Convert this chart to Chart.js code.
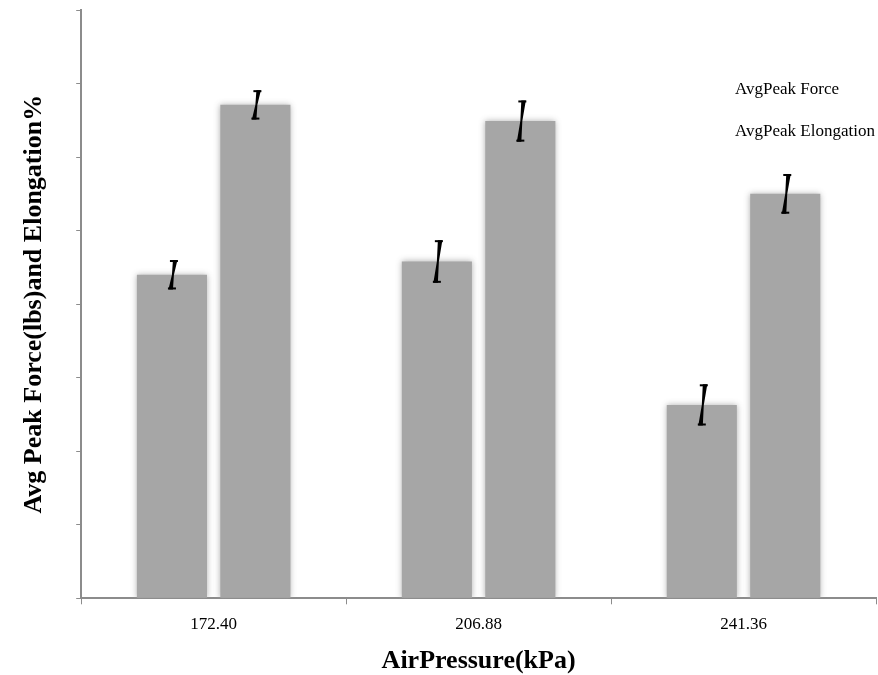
<!DOCTYPE html>
<html>
<head>
<meta charset="utf-8">
<script src="https://cdn.jsdelivr.net/npm/chart.js@4/dist/chart.umd.min.js"></script>
<style>
  html, body { margin: 0; padding: 0; background: #fff; }
  #wrap { width: 878px; height: 675px; }
</style>
</head>
<body>
<div id="wrap"><canvas id="peakChart" width="878" height="675"></canvas></div>
<script>
const pressures = ['172.40', '206.88', '241.36'];
const avgForce = [4.40, 4.58, 2.63];
const avgElongation = [6.71, 6.49, 5.50];
const forceErr = [0.20, 0.29, 0.28];
const elongationErr = [0.20, 0.28, 0.27];
const yTicks = [0, 1, 2, 3, 4, 5, 6, 7, 8];

const SERIF = '"Liberation Serif", "Times New Roman", serif';
const AXIS_GREY = '#8c8c8c';
const BAR_GREY = '#a6a6a6';

// soft edges on the bars
const barBlur = {
  id: 'barBlur',
  beforeDatasetsDraw(chart) {
    const c = chart.ctx;
    c.save();
    c.shadowColor = 'rgba(166,166,166,0.9)';
    c.shadowBlur = 6;
  },
  afterDatasetsDraw(chart) {
    chart.ctx.restore();
  }
};

// slanted "I" error marks
const errorMarks = {
  id: 'errorMarks',
  afterDatasetsDraw(chart) {
    const c = chart.ctx;
    const y = chart.scales.y;
    chart.data.datasets.forEach((ds, i) => {
      const meta = chart.getDatasetMeta(i);
      meta.data.forEach((bar, j) => {
        const v = ds.data[j];
        const e = ds.errors[j];
        const top = y.getPixelForValue(v + e);
        const bot = y.getPixelForValue(v - e);
        const x = bar.x + 1;
        c.save();
        c.fillStyle = '#000';
        // tapered stem, thick at both ends
        c.beginPath();
        c.moveTo(x, top);
        c.lineTo(x + 4.5, top);
        c.lineTo(x + 1, (top + bot) / 2);
        c.lineTo(x, bot);
        c.lineTo(x - 4.5, bot);
        c.lineTo(x - 1, (top + bot) / 2);
        c.closePath();
        c.fill();
        // caps
        c.fillRect(x - 3, top, 8, 2);
        c.fillRect(x - 5, bot - 2, 8, 2);
        c.restore();
      });
    });
  }
};

// text-only legend in the upper right
const plainLegend = {
  id: 'plainLegend',
  afterDraw(chart) {
    const c = chart.ctx;
    c.save();
    c.fillStyle = '#000';
    c.font = '17px ' + SERIF;
    c.textBaseline = 'middle';
    chart.data.datasets.forEach((ds, i) => {
      c.fillText(ds.label, 735, 90 + i * 42);
    });
    c.restore();
  }
};

new Chart(document.getElementById('peakChart').getContext('2d'), {
  type: 'bar',
  data: {
    labels: pressures,
    datasets: [
      { label: 'AvgPeak Force', data: avgForce, errors: forceErr, backgroundColor: BAR_GREY },
      { label: 'AvgPeak Elongation', data: avgElongation, errors: elongationErr, backgroundColor: BAR_GREY }
    ]
  },
  options: {
    responsive: false,
    animation: false,
    categoryPercentage: 0.63,
    barPercentage: 0.84,
    layout: { padding: { top: 10, right: 2, left: 0, bottom: 0 } },
    plugins: {
      legend: { display: false },
      tooltip: { enabled: false }
    },
    scales: {
      x: {
        grid: { display: true, drawOnChartArea: false, offset: true, color: AXIS_GREY, tickLength: 6 },
        border: { color: AXIS_GREY, width: 2 },
        ticks: { color: '#000', font: { family: SERIF, size: 17 }, padding: 10 },
        title: { display: true, text: 'AirPressure(kPa)', color: '#000', font: { family: SERIF, size: 26, weight: 'bold', lineHeight: 1.05 }, padding: { top: 3, bottom: 0 } }
      },
      y: {
        min: 0,
        max: 8,
        afterBuildTicks(scale) { scale.ticks = yTicks.map(v => ({ value: v })); },
        grid: { display: true, drawOnChartArea: false, color: AXIS_GREY, tickLength: 5 },
        border: { color: AXIS_GREY, width: 2 },
        ticks: { display: false },
        title: { display: true, text: 'Avg Peak Force(lbs)and Elongation%', color: '#000', font: { family: SERIF, size: 26, weight: 'bold' }, padding: { top: 19, bottom: 26 } }
      }
    }
  },
  plugins: [barBlur, errorMarks, plainLegend]
});
</script>
</body>
</html>
